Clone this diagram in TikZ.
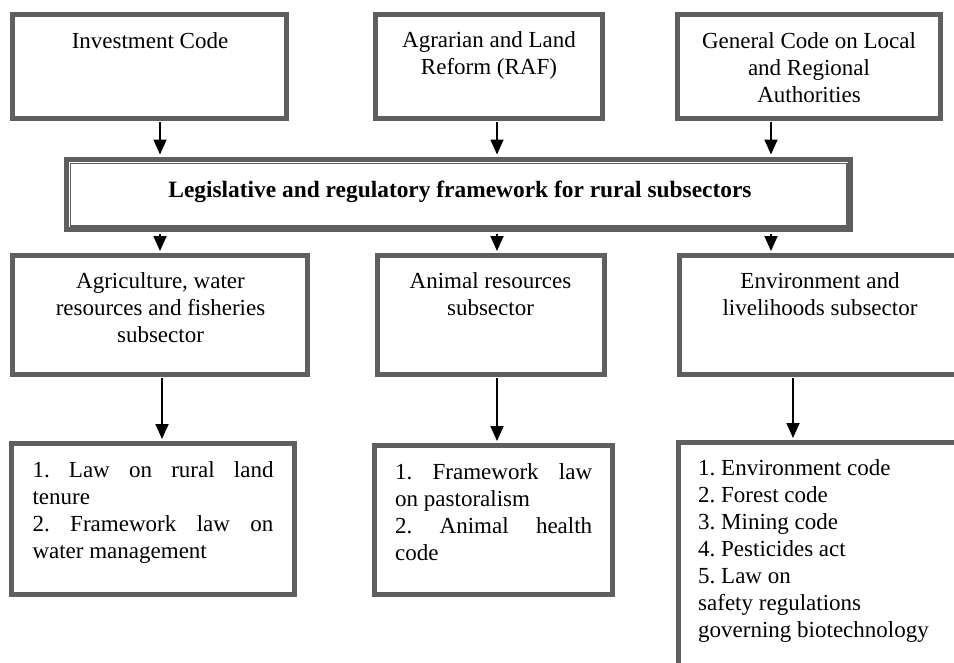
\documentclass[tikz,border=0pt]{standalone}
\usepackage{fontspec}
\setmainfont{Liberation Serif}
\usetikzlibrary{arrows.meta}
\definecolor{boxgray}{RGB}{95,95,95}
\tikzset{
  gbox/.style={draw=boxgray, line width=5pt, fill=white, inner sep=0pt},
  txt/.style={inner sep=0pt, font=\fontsize{23}{27}\selectfont},
  arr/.style={draw=black, line width=1.8pt, -{Triangle[length=15pt,width=13pt]}, shorten <=1pt, shorten >=2pt}
}
\frenchspacing
\begin{document}
\begin{tikzpicture}[x=1pt,y=-1pt]
\useasboundingbox (0,0) rectangle (954,662);
\clip (0,0) rectangle (954,662);
\fill[white] (0,0) rectangle (954,662);

% top row
\node[gbox, minimum width=274pt, minimum height=104pt] (inv) at (149.5,66.5) {};
\node[gbox, minimum width=227pt, minimum height=104pt] (agr) at (489,66.5) {};
\node[gbox, minimum width=263pt, minimum height=104pt] (gen) at (809,66.5) {};
\node[txt, anchor=north, align=center] (invT) at (150,29) {\strut Investment Code};
\node[txt, anchor=north, align=center] (agrT) at (489,28.5) {\strut Agrarian and Land\\Reform (RAF)};
\node[txt, anchor=north, align=center] (genT) at (809,29.5) {\strut General Code on Local\\and Regional\\Authorities};

% banner
\node[draw=boxgray, line width=5pt, fill=white, inner sep=0pt, minimum width=784pt, minimum height=70pt] (frame) at (458.5,194.5) {};
\draw[boxgray, line width=1.6pt] ([xshift=6.3pt,yshift=-6.3pt]frame.north west) rectangle ([xshift=-6.3pt,yshift=6.3pt]frame.south east);
\node[txt, font=\fontsize{23.4}{27}\selectfont\bfseries] (frameT) at (460,192) {Legislative and regulatory framework for rural subsectors};

% middle row
\node[gbox, minimum width=295pt, minimum height=119pt] (agri) at (160,315) {};
\node[gbox, minimum width=227pt, minimum height=119pt] (anim) at (491,315) {};
\node[gbox, minimum width=300pt, minimum height=119pt] (env) at (829.5,315) {};
\node[txt, anchor=north, align=center] (agriT) at (160.5,269.5) {\strut Agriculture, water\\resources and fisheries\\subsector};
\node[txt, anchor=north, align=center] (animT) at (490.5,269.5) {\strut Animal resources\\subsector};
\node[txt, anchor=north, align=center] (envT) at (820,269.5) {\strut Environment and\\livelihoods subsector};

% bottom row
\node[gbox, minimum width=283pt, minimum height=151pt] (lawA) at (153,519) {};
\node[gbox, minimum width=238pt, minimum height=149pt] (lawB) at (493.5,520) {};
\node[gbox, minimum width=320pt, minimum height=260pt] (lawC) at (838.5,572.5) {};
\node[txt, anchor=north west, text width=241pt, align=justify] (lawAT) at (32.3,458) {\strut 1. Law on rural land\linebreak tenure\\2. Framework law on\linebreak water management};
\node[txt, anchor=north west, text width=197pt, align=justify] (lawBT) at (395,460.5) {\strut 1. Framework law\linebreak on pastoralism\\2. Animal health\linebreak code};
\node[txt, anchor=north west, align=left] (lawCT) at (698,456) {\strut 1. Environment code\\2. Forest code\\3. Mining code\\4. Pesticides act\\5. Law on\\safety regulations\\governing biotechnology};

% arrows top -> banner
\draw[arr, shorten >=2.5pt] ([xshift=10.5pt]inv.south) -- ([xshift=10.5pt]inv.south |- frame.north);
\draw[arr, shorten >=2.5pt] ([xshift=8pt]agr.south) -- ([xshift=8pt]agr.south |- frame.north);
\draw[arr, shorten >=2.5pt] ([xshift=-38pt]gen.south) -- ([xshift=-38pt]gen.south |- frame.north);

% arrows banner -> middle
\draw[arr, shorten <=1.5pt] (agri.north |- frame.south) -- (agri.north);
\draw[arr, shorten <=1.5pt] ([xshift=6pt]anim.north |- frame.south) -- ([xshift=6pt]anim.north);
\draw[arr, shorten <=1.5pt] ([xshift=-58.5pt]env.north |- frame.south) -- ([xshift=-58.5pt]env.north);

% arrows middle -> bottom
\draw[arr] ([xshift=2pt]agri.south) -- ([xshift=2pt]agri.south |- lawA.north);
\draw[arr] ([xshift=6pt]anim.south) -- ([xshift=6pt]anim.south |- lawB.north);
\draw[arr] ([xshift=-36.5pt]env.south) -- ([xshift=-36.5pt]env.south |- lawC.north);
\end{tikzpicture}
\end{document}
